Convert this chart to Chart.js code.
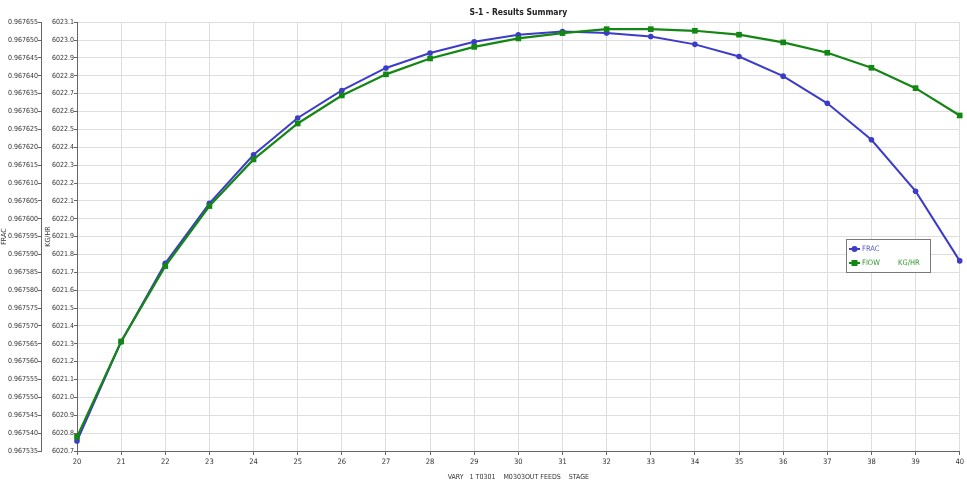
<!DOCTYPE html>
<html>
<head>
<meta charset="utf-8">
<title>S-1 - Results Summary</title>
<script src="https://cdn.jsdelivr.net/npm/chart.js@4.4.0/dist/chart.umd.min.js"></script>
<style>
    html, body { margin: 0; padding: 0; background: #fff; }
    #wrap { width: 967px; height: 491px; }
</style>
</head>
<body>
<div id="wrap"><canvas id="myChart" width="967" height="491"></canvas></div>
<script>
// stage numbers on the x axis
var stages = ["20", "21", "22", "23", "24", "25", "26", "27", "28", "29", "30",
    "31", "32", "33", "34", "35", "36", "37", "38", "39", "40"];

// FRAC (left outer axis)
var fracValues = [0.9675378, 0.9675656, 0.9675875, 0.9676043, 0.9676179, 0.9676282,
    0.9676359, 0.9676422, 0.9676464, 0.9676495, 0.9676515, 0.9676524, 0.967652,
    0.967651, 0.9676488, 0.9676454, 0.9676399, 0.9676323, 0.9676221, 0.9676077, 0.9675882];

// FLOW KG/HR (left inner axis)
var flowValues = [6020.779, 6021.313, 6021.735, 6022.071, 6022.332, 6022.533, 6022.69,
    6022.808, 6022.897, 6022.962, 6023.009, 6023.039, 6023.061, 6023.061, 6023.052,
    6023.03, 6022.987, 6022.929, 6022.845, 6022.731, 6022.578];

var fracTicks = [0.967535, 0.96754, 0.967545, 0.96755, 0.967555, 0.96756, 0.967565,
    0.96757, 0.967575, 0.96758, 0.967585, 0.96759, 0.967595, 0.9676, 0.967605, 0.96761,
    0.967615, 0.96762, 0.967625, 0.96763, 0.967635, 0.96764, 0.967645, 0.96765, 0.967655];

var kgTicks = [6020.7, 6020.8, 6020.9, 6021.0, 6021.1, 6021.2, 6021.3, 6021.4, 6021.5,
    6021.6, 6021.7, 6021.8, 6021.9, 6022.0, 6022.1, 6022.2, 6022.3, 6022.4, 6022.5,
    6022.6, 6022.7, 6022.8, 6022.9, 6023.0, 6023.1];

var legendLabels = ["FRAC", "FIOW"];
var legendUnits = ["", "KG/HR"];
var legendTextColors = ["#5a5ad6", "#2f962f"];

var blue = "#3c3cc8";
var green = "#138613";
var narrow = "'DejaVu Sans Condensed', 'Liberation Sans', sans-serif";
var gridColor = "#dedede";
var axisColor = "#666";

// legend box drawn inside the plot, like the original
var boxLegend = {
    id: "boxLegend",
    afterDraw: function (chart) {
        let ctx = chart.ctx;
        let x = 846, y = 239, w = 84, h = 33;
        ctx.save();
        ctx.fillStyle = "#fff";
        ctx.fillRect(x, y, w, h);
        ctx.strokeStyle = "#7a7a7a";
        ctx.lineWidth = 1;
        ctx.strokeRect(x + 0.5, y + 0.5, w, h);
        ctx.font = "7.5px " + narrow;
        ctx.textBaseline = "middle";
        chart.data.datasets.forEach((ds, i) => {
            let cy = y + 10 + i * 14;
            ctx.strokeStyle = ds.borderColor;
            ctx.lineWidth = 2;
            ctx.beginPath();
            ctx.moveTo(x + 3, cy);
            ctx.lineTo(x + 14, cy);
            ctx.stroke();
            ctx.fillStyle = ds.borderColor;
            if (ds.pointStyle == "rect") {
                ctx.fillRect(x + 5.5, cy - 3, 6, 6);
            } else {
                ctx.beginPath();
                ctx.arc(x + 8.5, cy, 3, 0, Math.PI * 2);
                ctx.fill();
            }
            ctx.fillStyle = legendTextColors[i];
            ctx.textAlign = "left";
            ctx.fillText(legendLabels[i], x + 16, cy);
            if (legendUnits[i]) {
                ctx.fillText(legendUnits[i], x + 52, cy);
            }
        });
        ctx.restore();
    },
};

const ctx = document.getElementById("myChart");
var chart = new Chart(ctx, {
    type: "line",
    data: {
        labels: stages,
        datasets: [
            {
                label: "FRAC",
                data: fracValues,
                yAxisID: "yFrac",
                borderColor: blue,
                backgroundColor: blue,
                borderWidth: 2,
                pointStyle: "circle",
                pointRadius: 2.8,
                pointBorderWidth: 0,
                tension: 0,
                clip: false,
                order: 2,
            },
            {
                label: "FIOW  KG/HR",
                data: flowValues,
                yAxisID: "yKg",
                borderColor: green,
                backgroundColor: green,
                borderWidth: 2.2,
                pointStyle: "rect",
                pointRadius: 4,
                pointBorderWidth: 0,
                tension: 0,
                clip: false,
                order: 1,
            },
        ],
    },
    options: {
        responsive: false,
        animation: false,
        layout: { padding: { left: 0, right: 7, top: 0, bottom: 0 } },
        plugins: {
            legend: { display: false },
            tooltip: { enabled: false },
            title: {
                display: true,
                text: "S-1 - Results Summary",
                fullSize: false,
                color: "#222",
                font: { family: narrow, size: 8.5, weight: "bold" },
                padding: { top: 8, bottom: 4 },
            },
        },
        scales: {
            x: {
                type: "category",
                offset: false,
                afterFit: (scale) => { scale.height = 40; },
                grid: { color: gridColor, tickColor: axisColor, tickLength: 4 },
                border: { color: axisColor, width: 1 },
                ticks: {
                    color: "#333",
                    font: { family: narrow, size: 7.5 },
                    padding: 3,
                    maxRotation: 0,
                    autoSkip: false,
                },
                title: {
                    display: true,
                    text: "VARY   1 T0301    M0303OUT FEEDS    STAGE",
                    color: "#333",
                    font: { family: narrow, size: 7 },
                    padding: { top: 0, bottom: 10 },
                },
            },
            yKg: {
                position: "left",
                weight: 0,
                min: 6020.7,
                max: 6023.1,
                afterBuildTicks: (scale) => {
                    scale.ticks = kgTicks.map((v) => ({ value: v }));
                },
                afterFit: (scale) => { scale.width = 36; },
                grid: { color: gridColor, tickColor: axisColor, tickLength: 3 },
                border: { color: axisColor, width: 1 },
                ticks: {
                    color: "#333",
                    font: { family: narrow, size: 7 },
                    padding: 0,
                    autoSkip: false,
                    callback: (value) => Number(value).toFixed(1),
                },
                title: {
                    display: true,
                    text: "KG/HR",
                    color: "#333",
                    font: { family: narrow, size: 7 },
                    padding: { top: 3, bottom: 0 },
                },
            },
            yFrac: {
                position: "left",
                weight: 1,
                min: 0.967535,
                max: 0.967655,
                afterBuildTicks: (scale) => {
                    scale.ticks = fracTicks.map((v) => ({ value: v }));
                },
                afterFit: (scale) => { scale.width = 41; },
                grid: { drawOnChartArea: false, tickColor: axisColor, tickLength: 3 },
                border: { color: axisColor, width: 1 },
                ticks: {
                    color: "#333",
                    font: { family: narrow, size: 7 },
                    padding: 0,
                    autoSkip: false,
                    callback: (value) => Number(value).toFixed(6),
                },
                title: {
                    display: true,
                    text: "FRAC",
                    color: "#333",
                    font: { family: narrow, size: 7 },
                    padding: { top: 0, bottom: 0 },
                },
            },
        },
    },
    plugins: [boxLegend],
});
</script>
</body>
</html>
